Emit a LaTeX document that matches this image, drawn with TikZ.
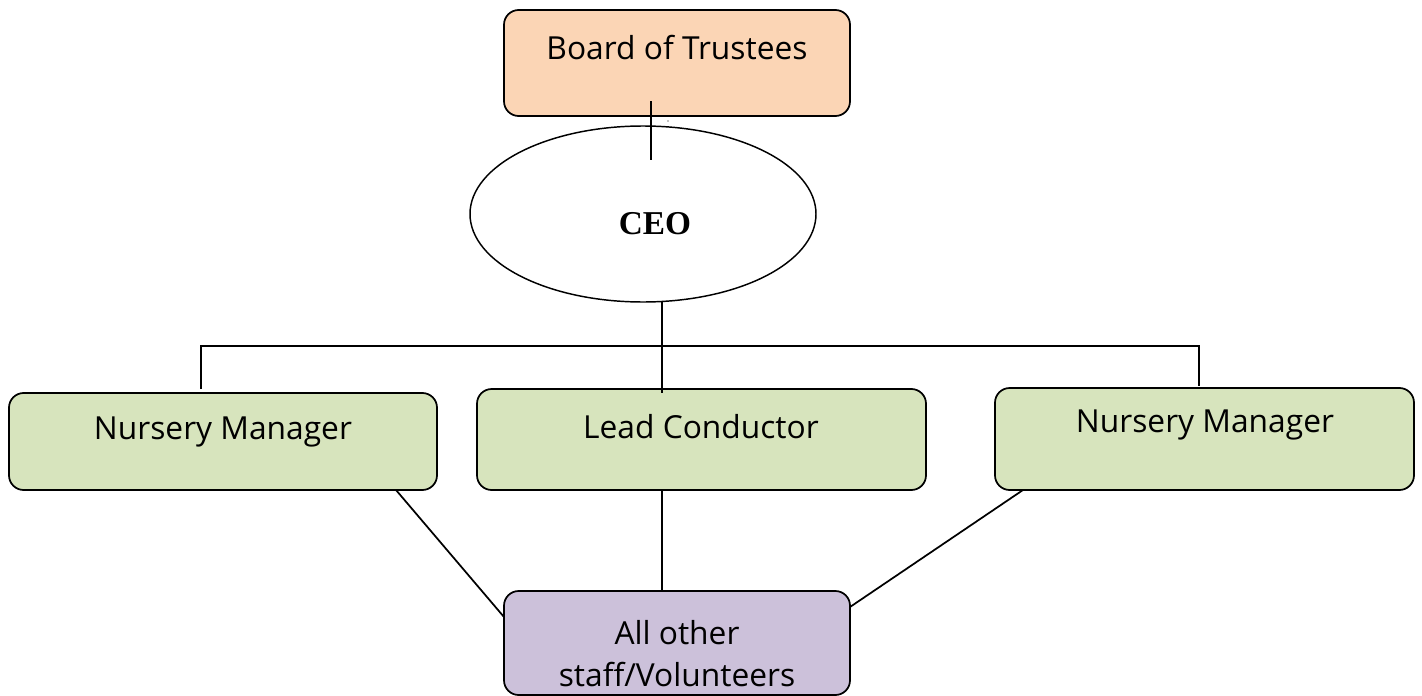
\documentclass[tikz,border=0pt]{standalone}
\usepackage{fontspec}
\setmainfont{Open Sans}
\newfontfamily\ceofont{Liberation Serif}
\usetikzlibrary{shapes.geometric}
\definecolor{orangefill}{HTML}{FBD5B5}
\definecolor{greenfill}{HTML}{D7E4BD}
\definecolor{purplefill}{HTML}{CCC1DA}
\tikzset{
  boxshape/.style={draw=black, line width=1.3pt, rounded corners=11pt, inner sep=0pt},
  lbl/.style={font=\fontsize{23.8}{31.5}\selectfont, align=center, inner sep=0pt},
  conn/.style={draw=black, line width=1.3pt}
}
\begin{document}
\begin{tikzpicture}[x=0.75pt, y=-0.75pt]
\useasboundingbox (0,0) rectangle (1422,696);
% boxes
\node[boxshape, fill=orangefill, minimum width=346*0.75pt, minimum height=106*0.75pt] (board) at (677,63) {};
\node[draw=black, line width=1.1pt, ellipse, fill=white, minimum width=346*0.75pt, minimum height=176*0.75pt, inner sep=0pt] (ceo) at (643,214) {};
\node[boxshape, fill=greenfill, minimum width=428*0.75pt, minimum height=97*0.75pt] (nm1) at (223,441.5) {};
\node[boxshape, fill=greenfill, minimum width=449*0.75pt, minimum height=101*0.75pt] (lc) at (701.5,439.5) {};
\node[boxshape, fill=greenfill, minimum width=419*0.75pt, minimum height=102*0.75pt] (nm2) at (1204.5,439) {};
\node[boxshape, fill=purplefill, minimum width=346*0.75pt, minimum height=104*0.75pt] (staff) at (677,643) {};
% texts
\node[lbl] (boardT) at (677,48) {Board of Trustees};
\node[inner sep=0pt, font=\ceofont\bfseries\fontsize{25}{30}\selectfont] (ceoT) at (655,224) {CEO};
\node[lbl] (nm1T) at (223,432) {Nursery Manager};
\node[lbl] (lcT) at (701,427) {Lead Conductor};
\node[lbl] (nm2T) at (1205,425) {Nursery Manager};
\node[lbl] (staffT) at (677,654) {All other\\staff/Volunteers};
% connector points
\coordinate (b1) at (651,101);
\coordinate (b2) at (651,160);
\coordinate (c1) at (662,302);
\coordinate (c2) at (662,393);
\coordinate (hl) at (201,346);
\coordinate (hr) at (1199,346);
\coordinate (l1) at (201,389);
\coordinate (r1) at (1199,386);
\coordinate (nm1b) at (396,490);
\coordinate (staffL) at (504,617);
\coordinate (lcb) at (662,490);
\coordinate (stafft) at (662,591);
\coordinate (nm2b) at (1023,490);
\coordinate (staffR) at (850,607);
% connectors
\draw[conn] (b1) -- (b2);
\draw[conn] (c1) -- (c2);
\draw[conn] (l1) -- (hl) -- (hr) -- (r1);
\draw[conn] (nm1b) -- (staffL);
\draw[conn] (lcb) -- (stafft);
\draw[conn] (nm2b) -- (staffR);
\fill (668,121) circle (0.6);
\end{tikzpicture}
\end{document}
